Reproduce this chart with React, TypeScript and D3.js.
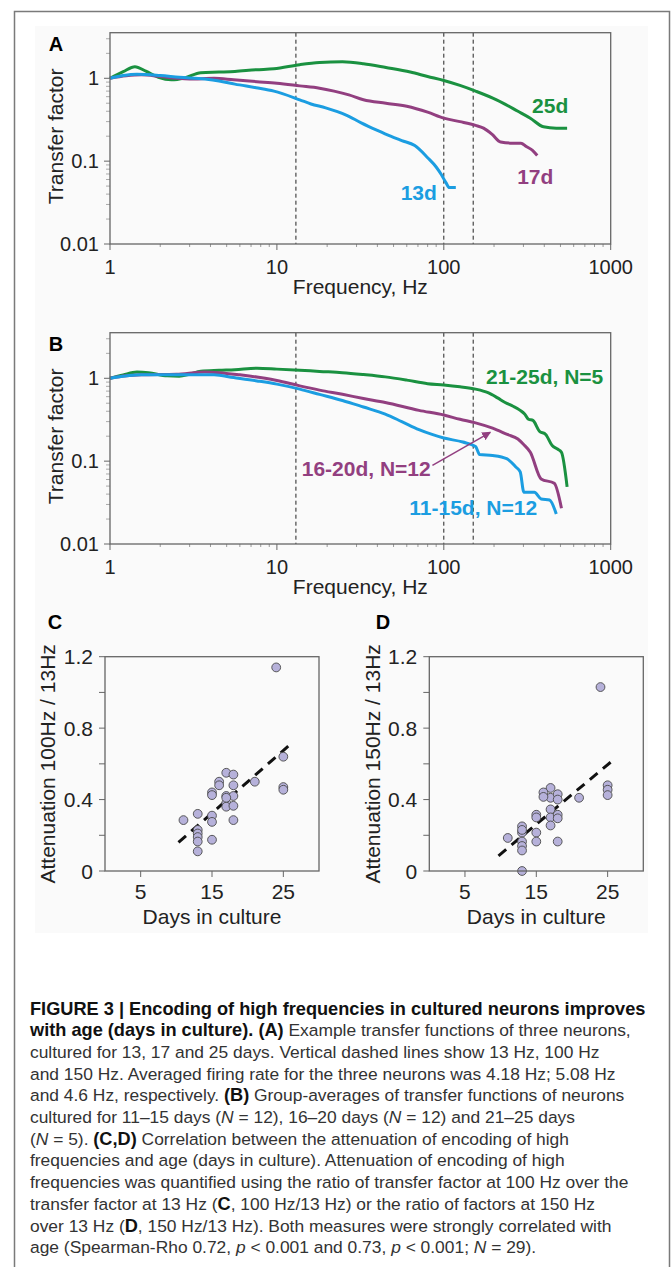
import * as d3 from "d3";

const FONT = "'Liberation Sans', Arial, Helvetica, sans-serif";

const GREEN = "#1a9140";
const PURPLE = "#923f80";
const BLUE = "#1b9de1";

// markers at 13, 100 and 150 Hz
const markerFreqs = [13, 100, 150];

// panel A: example neurons, [frequency Hz, transfer factor]
const curveA25d: [number, number][] = [
  [1, 1], [1.2, 1.2], [1.41, 1.38], [1.64, 1.22], [1.95, 1.03], [2.33, 0.96], [2.8, 1.01],
  [3.5, 1.17], [4.5, 1.19], [5.6, 1.21], [7.5, 1.27], [9.6, 1.3], [13.7, 1.46], [18, 1.55],
  [24.7, 1.58], [33, 1.5], [45, 1.35], [63, 1.19], [80, 1.05], [100, 0.94], [125, 0.82],
  [155, 0.7], [207, 0.55], [278, 0.4], [330, 0.33], [395, 0.26], [472, 0.25], [548, 0.25],
];
const curveA17d: [number, number][] = [
  [1, 1], [1.25, 1.07], [1.54, 1.1], [2, 1.05], [2.5, 1.0], [3, 0.98], [4.2, 1.0], [5.5, 0.96],
  [7.6, 0.91], [10, 0.87], [13.7, 0.81], [18, 0.76], [22, 0.7], [27, 0.63], [33, 0.55],
  [45, 0.5], [60, 0.46], [80, 0.39], [100, 0.33], [125, 0.3], [155, 0.27], [173, 0.25],
  [195, 0.21], [219, 0.17], [250, 0.165], [290, 0.165], [312, 0.15], [340, 0.135], [363, 0.117],
];
const curveA13d: [number, number][] = [
  [1, 1], [1.2, 1.08], [1.45, 1.12], [2, 1.08], [2.6, 1.03], [3.7, 0.98], [4.5, 0.93],
  [5.6, 0.85], [7.5, 0.77], [9.6, 0.7], [13.7, 0.55], [16, 0.49], [19.6, 0.44], [26, 0.36],
  [32, 0.29], [40, 0.235], [48, 0.2], [56, 0.177], [67, 0.154], [80, 0.11], [90, 0.085],
  [97, 0.068], [103, 0.055], [108, 0.048], [118, 0.048],
];

// panel B: group averages
const curveB21to25: [number, number][] = [
  [1, 1], [1.2, 1.1], [1.45, 1.19], [1.7, 1.17], [2.2, 1.07], [2.6, 1.06], [3.0, 1.12],
  [3.5, 1.22], [4.5, 1.25], [5.6, 1.27], [7.6, 1.32], [10, 1.29], [13.7, 1.25], [18, 1.21],
  [24.7, 1.17], [33, 1.11], [44.6, 1.04], [60, 0.95], [80, 0.86], [100, 0.83], [125, 0.79],
  [155, 0.74], [184, 0.67], [210, 0.58], [233, 0.51], [260, 0.46], [287, 0.41], [305, 0.37],
  [322, 0.32], [342, 0.31], [374, 0.23], [408, 0.21], [446, 0.154], [480, 0.14], [507, 0.128],
  [548, 0.049],
];
const curveB16to20: [number, number][] = [
  [1, 1], [1.25, 1.07], [1.54, 1.1], [2.5, 1.12], [3.7, 1.19], [4.5, 1.17], [6.0, 1.1],
  [8.5, 1.0], [10, 0.94], [13.7, 0.81], [18, 0.72], [24.7, 0.64], [33, 0.57], [44.6, 0.51],
  [71, 0.41], [100, 0.36], [125, 0.32], [155, 0.29], [196, 0.25], [240, 0.21], [278, 0.185],
  [300, 0.16], [330, 0.128], [383, 0.061], [459, 0.054], [507, 0.027],
];
const curveB11to15: [number, number][] = [
  [1, 1], [1.3, 1.08], [1.54, 1.1], [2.5, 1.1], [4.2, 1.1], [5.5, 1.02], [7.6, 0.93],
  [10, 0.85], [13.7, 0.74], [18, 0.64], [24.7, 0.54], [33, 0.45], [44.6, 0.37], [56, 0.3],
  [71, 0.24], [85, 0.21], [100, 0.19], [130, 0.17], [155, 0.15], [164, 0.12], [196, 0.117],
  [238, 0.107], [270, 0.085], [287, 0.074], [302, 0.042], [349, 0.042], [383, 0.035],
  [430, 0.034], [472, 0.023],
];

// panel C: attenuation 100Hz / 13Hz vs days in culture
const daysC = [24, 25, 25, 25, 21, 17, 17, 17, 17, 18, 18, 18, 18, 18, 16, 16, 15, 15, 15, 15, 15, 13, 13, 13, 13, 13, 13, 11, 17];
const attenC = [1.14, 0.64, 0.47, 0.455, 0.5, 0.55, 0.42, 0.38, 0.36, 0.54, 0.48, 0.42, 0.365, 0.285, 0.5, 0.48, 0.44, 0.425, 0.31, 0.275, 0.175, 0.32, 0.23, 0.21, 0.19, 0.165, 0.11, 0.285, 0.41];
const trendC: [number, number][] = [[10.3, 0.16], [26, 0.71]];

// panel D: attenuation 150Hz / 13Hz vs days in culture
const daysD = [24, 25, 25, 25, 21, 17, 17, 17, 17, 17, 18, 18, 18, 18, 18, 16, 16, 15, 15, 15, 15, 13, 13, 13, 13, 13, 13, 11, 13];
const attenD = [1.03, 0.48, 0.455, 0.425, 0.41, 0.465, 0.41, 0.345, 0.3, 0.255, 0.43, 0.4, 0.315, 0.295, 0.165, 0.44, 0.415, 0.315, 0.3, 0.215, 0.165, 0.25, 0.215, 0.165, 0.14, 0.115, 0.0, 0.185, 0.23];
const trendD: [number, number][] = [[9.7, 0.085], [25.6, 0.615]];

const dayTicks = [5, 15, 25];

type Seg = { t: string; b?: boolean; i?: boolean };
const caption: Seg[][] = [
  [{ t: "FIGURE 3 | Encoding of high frequencies in cultured neurons improves", b: true }],
  [{ t: "with age (days in culture). (A)", b: true }, { t: " Example transfer functions of three neurons," }],
  [{ t: "cultured for 13, 17 and 25 days. Vertical dashed lines show 13 Hz, 100 Hz" }],
  [{ t: "and 150 Hz. Averaged firing rate for the three neurons was 4.18 Hz; 5.08 Hz" }],
  [{ t: "and 4.6 Hz, respectively. " }, { t: "(B)", b: true }, { t: " Group-averages of transfer functions of neurons" }],
  [{ t: "cultured for 11–15 days (" }, { t: "N", i: true }, { t: " = 12), 16–20 days (" }, { t: "N", i: true }, { t: " = 12) and 21–25 days" }],
  [{ t: "(" }, { t: "N", i: true }, { t: " = 5). " }, { t: "(C,D)", b: true }, { t: " Correlation between the attenuation of encoding of high" }],
  [{ t: "frequencies and age (days in culture). Attenuation of encoding of high" }],
  [{ t: "frequencies was quantified using the ratio of transfer factor at 100 Hz over the" }],
  [{ t: "transfer factor at 13 Hz (" }, { t: "C", b: true }, { t: ", 100 Hz/13 Hz) or the ratio of factors at 150 Hz" }],
  [{ t: "over 13 Hz (" }, { t: "D", b: true }, { t: ", 150 Hz/13 Hz). Both measures were strongly correlated with" }],
  [{ t: "age (Spearman-Rho 0.72, " }, { t: "p", i: true }, { t: " < 0.001 and 0.73, " }, { t: "p", i: true }, { t: " < 0.001; " }, { t: "N", i: true }, { t: " = 29)." }],
];

type Note = { text: string; f: number; v: number; color: string };

const LogPanel = ({ top, letter, curves, notes, arrow }: {
  top: number;
  letter: string;
  curves: { data: [number, number][]; color: string }[];
  notes: Note[];
  arrow?: { from: [number, number]; to: [number, number]; color: string };
}) => {
  const left = 110, right = 610.7, h = 211.3;
  const x = d3.scaleLog().domain([1, 1000]).range([left, right]);
  const y = d3.scaleLog().domain([0.01, 3.55]).range([top + h, top]);
  const line = d3.line<[number, number]>().x((d) => x(d[0])).y((d) => y(d[1])).curve(d3.curveMonotoneX);
  const xMajor = [1, 10, 100, 1000];
  const xMinor = [1, 10, 100].flatMap((d) => d3.range(2, 10).map((k) => d * k));
  const yMajor = [0.01, 0.1, 1];
  const yMinor = [0.01, 0.1, 1].flatMap((d) => d3.range(2, 10).map((k) => d * k)).filter((v) => v < 3.55);
  const bottom = top + h;
  return (
    <g fontFamily={FONT}>
      <text x={56} y={top + 18} fontSize={20} fontWeight="bold" textAnchor="middle">{letter}</text>
      {xMinor.map((v) => (
        <line key={"xm" + v} x1={x(v)} x2={x(v)} y1={bottom} y2={bottom + 3} stroke="#999" />
      ))}
      {xMajor.map((v) => (
        <g key={"xM" + v}>
          <line x1={x(v)} x2={x(v)} y1={bottom} y2={bottom + 6} stroke="#666" />
          <text x={x(v)} y={bottom + 30} fontSize={20} textAnchor="middle" fill="#222">{v}</text>
        </g>
      ))}
      {yMinor.map((v) => (
        <line key={"ym" + v} x1={left - 4} x2={left} y1={y(v)} y2={y(v)} stroke="#aaa" />
      ))}
      {yMajor.map((v) => (
        <g key={"yM" + v}>
          <line x1={left - 6} x2={left} y1={y(v)} y2={y(v)} stroke="#666" />
          <text x={left - 11} y={y(v) + 7} fontSize={20} textAnchor="end" fill="#222">{v}</text>
        </g>
      ))}
      <text x={(left + right) / 2} y={bottom + 50} fontSize={21} textAnchor="middle" fill="#222">Frequency, Hz</text>
      <text transform={`translate(63,${top + h / 2 - 2}) rotate(-90)`} fontSize={21} textAnchor="middle" fill="#222">Transfer factor</text>
      {markerFreqs.map((f) => (
        <line key={"mk" + f} x1={x(f)} x2={x(f)} y1={top} y2={bottom} stroke="#222" strokeWidth={1} strokeDasharray="4,3" />
      ))}
      {curves.map((c, i) => (
        <path key={"c" + i} d={line(c.data) ?? ""} fill="none" stroke={c.color} strokeWidth={3} strokeLinejoin="round" />
      ))}
      {notes.map((n) => (
        <text key={n.text} x={x(n.f)} y={y(n.v) + 7.5} fontSize={21} fontWeight="bold" textAnchor="middle" fill={n.color}>{n.text}</text>
      ))}
      {arrow && (
        <line x1={x(arrow.from[0])} y1={y(arrow.from[1])} x2={x(arrow.to[0])} y2={y(arrow.to[1])}
          stroke={arrow.color} strokeWidth={1.5} markerEnd="url(#arrowhead)" />
      )}
      <rect x={left} y={top} width={right - left} height={h} fill="none" stroke="#666" strokeWidth={1.3} />
    </g>
  );
};

const ScatterPanel = ({ left, letterX, labelX, letter, ylabel, days, vals, trend }: {
  left: number;
  letterX: number;
  labelX: number;
  letter: string;
  ylabel: string;
  days: number[];
  vals: number[];
  trend: [number, number][];
}) => {
  const top = 656.7, bottom = 871, w = 214;
  const x = d3.scaleLinear().domain([0, 30]).range([left, left + w]);
  const y = d3.scaleLinear().domain([0, 1.2]).range([bottom, top]);
  const yTicks = d3.range(0, 7).map((i) => i * 0.2);
  const line = d3.line<[number, number]>().x((d) => x(d[0])).y((d) => y(d[1]));
  return (
    <g fontFamily={FONT}>
      <text x={letterX} y={628.5} fontSize={20} fontWeight="bold" textAnchor="middle">{letter}</text>
      {yTicks.map((v, i) => (
        <g key={"y" + i}>
          <line x1={left - 6} x2={left} y1={y(v)} y2={y(v)} stroke="#666" />
          {i % 2 === 0 && (
            <text x={left - 12} y={y(v) + 7.5} fontSize={21} textAnchor="end" fill="#222">{d3.format("~g")(+v.toFixed(1))}</text>
          )}
        </g>
      ))}
      {dayTicks.map((v) => (
        <g key={"x" + v}>
          <line x1={x(v)} x2={x(v)} y1={bottom} y2={bottom + 6} stroke="#666" />
          <text x={x(v)} y={bottom + 28} fontSize={21} textAnchor="middle" fill="#222">{v}</text>
        </g>
      ))}
      <text x={left + w / 2} y={923.5} fontSize={21} textAnchor="middle" fill="#222">Days in culture</text>
      <text transform={`translate(${labelX},${(top + bottom) / 2}) rotate(-90)`} fontSize={21} textAnchor="middle" fill="#222">{ylabel}</text>
      <path d={line(trend) ?? ""} stroke="#111" strokeWidth={3} strokeDasharray="10,7" fill="none" />
      {days.map((d, i) => (
        <circle key={"p" + i} cx={x(d)} cy={y(vals[i])} r={4.4} fill="#b6b1da" stroke="#4a4a4a" strokeWidth={0.9} />
      ))}
      <rect x={left} y={top} width={w} height={bottom - top} fill="none" stroke="#666" strokeWidth={1.3} />
    </g>
  );
};

export default function App() {
  return (
    <svg width={671} height={1267} style={{ position: "absolute", left: 0, top: 0, background: "#fff" }}>
      <defs>
        <marker id="arrowhead" viewBox="0 0 10 10" refX={9} refY={5} markerWidth={6} markerHeight={6} orient="auto">
          <path d="M0,0 L10,5 L0,10 z" fill={PURPLE} />
        </marker>
      </defs>
      <rect x={0} y={0} width={671} height={1267} fill="#fff" />
      <rect x={35} y={26} width={613} height={907} fill="#fafafa" />
      <path d="M14.5,1267 V11.5 H669.5 V1267" fill="none" stroke="#7a7a7a" strokeWidth={1.5} />

      <LogPanel
        top={32.7}
        letter="A"
        curves={[
          { data: curveA25d, color: GREEN },
          { data: curveA17d, color: PURPLE },
          { data: curveA13d, color: BLUE },
        ]}
        notes={[
          { text: "25d", f: 434, v: 0.467, color: GREEN },
          { text: "17d", f: 353, v: 0.065, color: PURPLE },
          { text: "13d", f: 70.8, v: 0.0417, color: BLUE },
        ]}
      />
      <LogPanel
        top={332.7}
        letter="B"
        curves={[
          { data: curveB21to25, color: GREEN },
          { data: curveB16to20, color: PURPLE },
          { data: curveB11to15, color: BLUE },
        ]}
        notes={[
          { text: "21-25d, N=5", f: 402, v: 1.04, color: GREEN },
          { text: "16-20d, N=12", f: 34.3, v: 0.081, color: PURPLE },
          { text: "11-15d, N=12", f: 150, v: 0.0275, color: BLUE },
        ]}
        arrow={{ from: [85.5, 0.0887], to: [190, 0.223], color: PURPLE }}
      />
      <ScatterPanel left={105} letterX={55} labelX={55} letter="C" ylabel="Attenuation 100Hz / 13Hz" days={daysC} vals={attenC} trend={trendC} />
      <ScatterPanel left={429.3} letterX={383} labelX={380} letter="D" ylabel="Attenuation 150Hz / 13Hz" days={daysD} vals={attenD} trend={trendD} />

      <g fontFamily={FONT} fontSize={17.4} fill="#333">
        {caption.map((segs, li) => (
          <text key={"cap" + li} x={30} y={1014.5 + li * 21.7}>
            {segs.map((s, si) => (
              <tspan key={si} fontWeight={s.b ? "bold" : undefined} fontSize={s.b ? 18.2 : undefined} fontStyle={s.i ? "italic" : undefined} fill={s.b ? "#111" : undefined}>{s.t}</tspan>
            ))}
          </text>
        ))}
      </g>
    </svg>
  );
}
